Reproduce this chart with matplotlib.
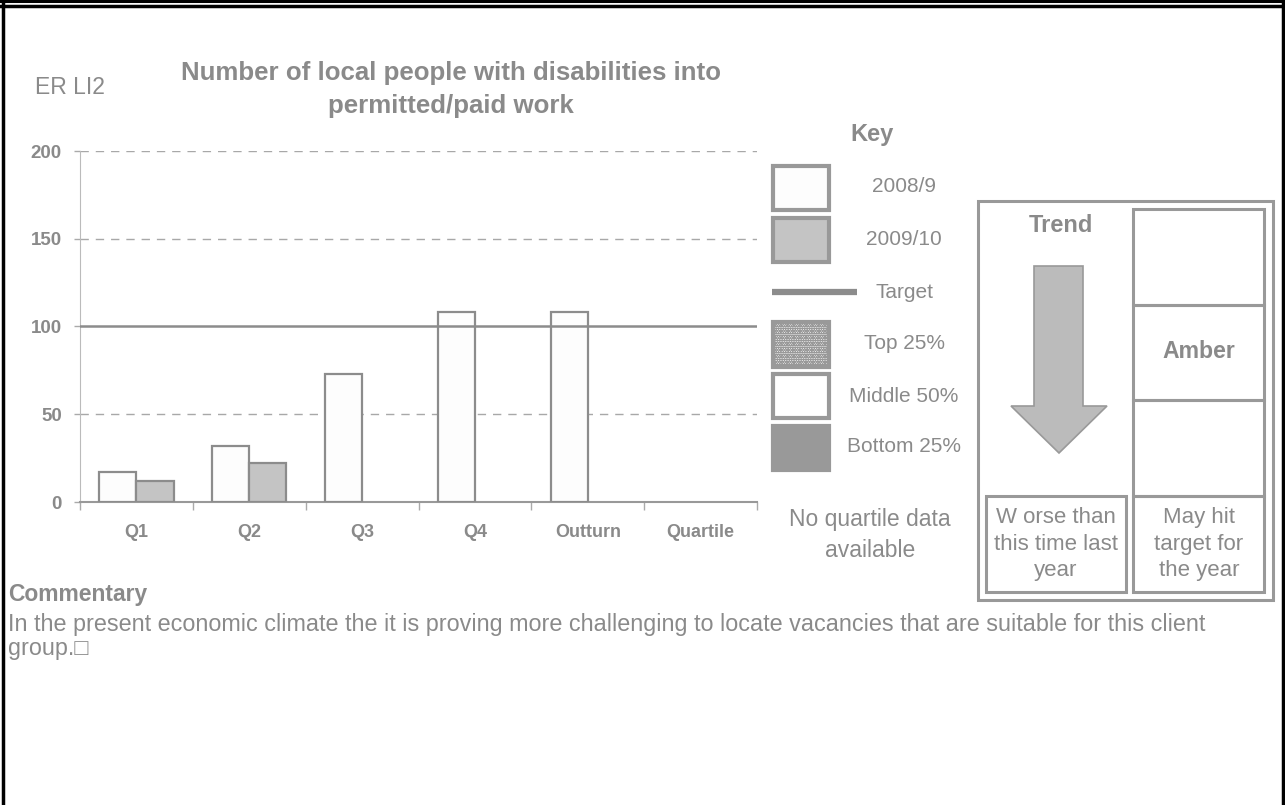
import matplotlib
matplotlib.use('Agg')
import matplotlib.pyplot as plt
import numpy as np
from matplotlib.patches import Rectangle, Polygon

plt.rcParams['font.family'] = ['Liberation Sans', 'DejaVu Sans']
plt.rcParams['hatch.color'] = '#a0a0a0'
plt.rcParams['hatch.linewidth'] = 0.8

# data
categories = ['Q1', 'Q2', 'Q3', 'Q4', 'Outturn', 'Quartile']
vals_2008 = [17, 32, 73, 108, 108, np.nan]
vals_2009 = [12, 22, np.nan, np.nan, np.nan, np.nan]
target = 100
yticks = [0, 50, 100, 150, 200]

title = 'Number of local people with disabilities into\npermitted/paid work'
code = 'ER LI2'
commentary = ('In the present economic climate the it is proving more challenging to locate vacancies that are suitable for this client\n'
              'group.\u25a1')

TXT = '#8a8a8a'
EDGE = '#8c8c8c'

W, H = 1285, 805
fig = plt.figure(figsize=(W / 100, H / 100), dpi=100)


def fx(px):
    return px / W


def fy(py):
    return 1 - py / H


# bar chart
ax = fig.add_axes([fx(80), fy(502), fx(757) - fx(80), fy(151) - fy(502)])
x = np.arange(len(categories))
bw = 0.33
ax.bar(x - bw / 2, vals_2008, bw, color='#fdfdfd', edgecolor=EDGE, linewidth=1.6, zorder=3)
ax.bar(x + bw / 2, vals_2009, bw, color='#c4c4c4', edgecolor=EDGE, linewidth=1.6, zorder=3)
ax.axhline(target, color=EDGE, lw=1.8, zorder=4)
for v in yticks:
    if v not in (0, target):
        ax.axhline(v, color='#a8a8a8', lw=1, ls=(0, (6, 5)), zorder=1)
ax.set_xlim(-0.5, len(categories) - 0.5)
ax.set_ylim(0, 200)
ax.set_yticks(yticks)
ax.set_yticklabels([str(v) for v in yticks], fontsize=13.5, fontweight='bold', color=TXT)
ax.tick_params(axis='y', length=4, width=1, color='#aaaaaa', pad=9)
ax.set_xticks(np.arange(len(categories) + 1) - 0.5)
ax.set_xticklabels([])
ax.set_xticks(x, minor=True)
ax.set_xticklabels(categories, minor=True, fontsize=13, fontweight='bold', color=TXT)
ax.tick_params(axis='x', which='major', length=6, width=1, color='#aaaaaa', direction='out')
ax.tick_params(axis='x', which='minor', length=0, pad=16)
for s in ['top', 'right']:
    ax.spines[s].set_visible(False)
ax.spines['left'].set_color('#bbbbbb')
ax.spines['bottom'].set_color('#999999')
ax.spines['bottom'].set_linewidth(1.5)

# overlay in pixel coordinates
ov = fig.add_axes([0, 0, 1, 1], facecolor='none')
ov.set_xlim(0, W)
ov.set_ylim(H, 0)
ov.axis('off')

# page border
ov.plot([0, W], [1.5, 1.5], color='black', lw=2.2)
ov.plot([0, W], [6, 6], color='black', lw=2.5)
ov.plot([3, 3], [0, H], color='black', lw=2.5)
ov.plot([W - 2, W - 2], [0, H], color='black', lw=2.5)

ov.text(35, 88, code, fontsize=16.5, color=TXT, va='center', ha='left')
ov.text(451, 89.5, title, fontsize=18.6, fontweight='bold', color=TXT, ha='center', va='center',
        linespacing=1.45)

# key
ov.text(872, 135, 'Key', fontsize=17, fontweight='bold', color=TXT, ha='center', va='center')
kx0, kx1 = 773, 829
key_items = [
    ('2008/9', 166, 210, '#fdfdfd', None, 187),
    ('2009/10', 218, 262, '#c4c4c4', None, 239),
    ('Top 25%', 322, 367, '#ffffff', 'ooooooo', 343),
    ('Middle 50%', 374, 418, '#ffffff', None, 396),
    ('Bottom 25%', 426, 470, '#999999', None, 446),
]
for lab, y0, y1, fc, hatch, ty in key_items:
    ov.add_patch(Rectangle((kx0, y0), kx1 - kx0, y1 - y0, facecolor=fc,
                           edgecolor='#999999', lw=3, hatch=hatch))
    ov.text(904, ty, lab, fontsize=15, color=TXT, ha='center', va='center')
ov.plot([772, 857], [292, 292], color=EDGE, lw=4.5, solid_capstyle='butt')
ov.text(904, 292, 'Target', fontsize=15, color=TXT, ha='center', va='center')
ov.text(870, 535, 'No quartile data\navailable', fontsize=16.5, color=TXT, ha='center',
        va='center', linespacing=1.42)

# trend / status panel
ov.add_patch(Rectangle((978, 201), 295, 399, facecolor='none', edgecolor='#999999', lw=2.2))
ov.text(1061, 225, 'Trend', fontsize=17, fontweight='bold', color=TXT, ha='center', va='center')
arrow = [(1034, 266), (1083, 266), (1083, 406), (1107, 406), (1059, 453),
         (1011, 406), (1034, 406)]
ov.add_patch(Polygon(arrow, closed=True, facecolor='#bbbbbb', edgecolor='#999999', lw=1.2))
for y0, y1 in [(209, 305), (305, 400), (400, 496), (496, 592)]:
    ov.add_patch(Rectangle((1133, y0), 131, y1 - y0, facecolor='none', edgecolor='#999999', lw=2.2))
ov.add_patch(Rectangle((986, 496), 140, 96, facecolor='none', edgecolor='#999999', lw=2.2))
ov.text(1199, 351, 'Amber', fontsize=16.6, fontweight='bold', color=TXT, ha='center', va='center')
ov.text(1056, 544, 'W orse than\nthis time last\nyear', fontsize=16, color=TXT, ha='center',
        va='center', linespacing=1.33)
ov.text(1199, 544, 'May hit\ntarget for\nthe year', fontsize=16, color=TXT, ha='center',
        va='center', linespacing=1.33)

# commentary
ov.text(8, 594, 'Commentary', fontsize=16.5, fontweight='bold', color=TXT, ha='left', va='center')
ov.text(8, 636.5, commentary, fontsize=16.8, color=TXT, ha='left', va='center', linespacing=1.1)

fig.savefig('out.png', dpi=100)
